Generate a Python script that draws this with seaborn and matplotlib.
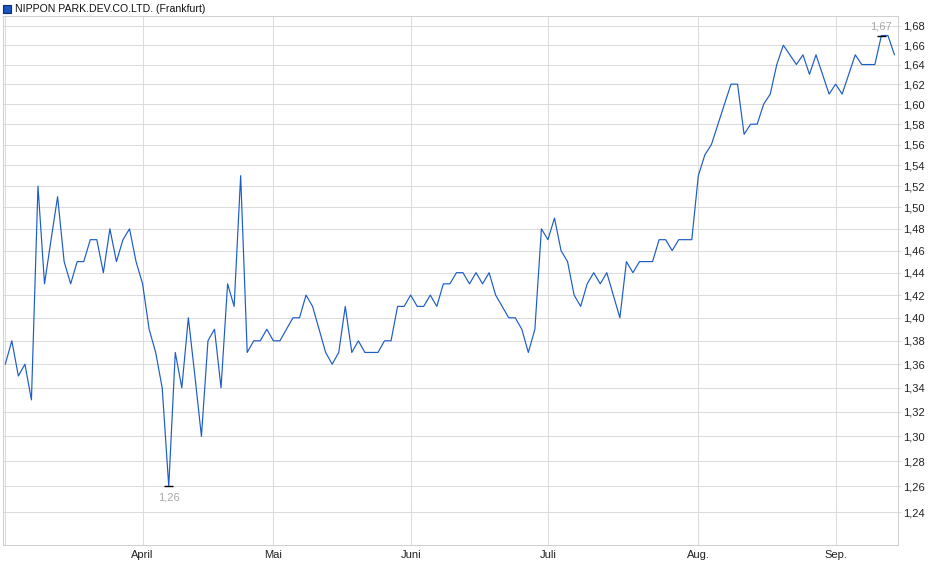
import numpy as np
import pandas as pd
import matplotlib
matplotlib.use("Agg")
import matplotlib.pyplot as plt
import matplotlib.ticker as mticker
from matplotlib.patches import Rectangle
import seaborn as sns

# ---- data ----
title = "NIPPON PARK.DEV.CO.LTD. (Frankfurt)"
start_date = "2025-03-03"
end_date = "2025-09-12"
holidays = ["2025-04-18", "2025-04-21", "2025-05-01"]
prices = [
    1.36, 1.38, 1.35, 1.36, 1.33, 1.52, 1.43, 1.47, 1.51, 1.45,
    1.43, 1.45, 1.45, 1.47, 1.47, 1.44, 1.48, 1.45, 1.47, 1.48,
    1.45, 1.43, 1.39, 1.37, 1.34, 1.26, 1.37, 1.34, 1.40, 1.35,
    1.30, 1.38, 1.39, 1.34, 1.43, 1.41, 1.53, 1.37, 1.38, 1.38,
    1.39, 1.38, 1.38, 1.39, 1.40, 1.40, 1.42, 1.41, 1.39, 1.37,
    1.36, 1.37, 1.41, 1.37, 1.38, 1.37, 1.37, 1.37, 1.38, 1.38,
    1.41, 1.41, 1.42, 1.41, 1.41, 1.42, 1.41, 1.43, 1.43, 1.44,
    1.44, 1.43, 1.44, 1.43, 1.44, 1.42, 1.41, 1.40, 1.40, 1.39,
    1.37, 1.39, 1.48, 1.47, 1.49, 1.46, 1.45, 1.42, 1.41, 1.43,
    1.44, 1.43, 1.44, 1.42, 1.40, 1.45, 1.44, 1.45, 1.45, 1.45,
    1.47, 1.47, 1.46, 1.47, 1.47, 1.47, 1.53, 1.55, 1.56, 1.58,
    1.60, 1.62, 1.62, 1.57, 1.58, 1.58, 1.60, 1.61, 1.64, 1.66,
    1.65, 1.64, 1.65, 1.63, 1.65, 1.63, 1.61, 1.62, 1.61, 1.63,
    1.65, 1.64, 1.64, 1.64, 1.67, 1.67, 1.65,
]
month_names = {3: "", 4: "April", 5: "Mai", 6: "Juni", 7: "Juli", 8: "Aug.", 9: "Sep."}
y_ticks = [1.24, 1.26, 1.28, 1.30, 1.32, 1.34, 1.36, 1.38, 1.40, 1.42, 1.44,
           1.46, 1.48, 1.50, 1.52, 1.54, 1.56, 1.58, 1.60, 1.62, 1.64, 1.66, 1.68]

# trading-day calendar
dates = pd.bdate_range(start_date, end_date)
dates = dates[~dates.isin(pd.to_datetime(holidays))]
dates = dates[:len(prices)]
df = pd.DataFrame({"date": dates, "price": prices})
df["idx"] = np.arange(len(df))
first_of_month = df.groupby(df["date"].dt.month)["idx"].min()

# ---- style ----
sns.set_style("white")
plt.rcParams["font.family"] = ["Liberation Sans", "DejaVu Sans"]

W, H = 940, 579
fig = plt.figure(figsize=(W / 100, H / 100), dpi=100)
left, right, top, bottom = 3, 898, 16, 545
ax = fig.add_axes([left / W, 1 - bottom / H, (right - left) / W, (bottom - top) / H])

line_color = "#1c5cc8"
grid_color = "#dcdcdc"

sns.lineplot(data=df, x="idx", y="price", ax=ax, color=line_color, linewidth=0.85)

ax.set_yscale("log")
ax.set_ylim(1.2147, 1.6905)
ax.set_xlim(-0.35, 136.54)

ax.yaxis.set_major_locator(mticker.FixedLocator(y_ticks))
ax.yaxis.set_minor_locator(mticker.NullLocator())
ax.yaxis.set_major_formatter(mticker.FuncFormatter(lambda v, p: f"{v:.2f}".replace(".", ",")))
ax.yaxis.tick_right()
ax.yaxis.set_label_position("right")

ax.set_xticks(list(first_of_month.values))
ax.set_xticklabels([month_names[m] for m in first_of_month.index])

ax.grid(True, color=grid_color, linewidth=0.75)
ax.set_axisbelow(True)
ax.tick_params(axis="both", which="both", length=2, color=grid_color, width=0.75,
               labelsize=8, labelcolor="#222222", pad=1.5)
ax.tick_params(axis="x", pad=1.5)
ax.set_xlabel("")
ax.set_ylabel("")
for s in ax.spines.values():
    s.set_color("#d0d0d0")
    s.set_linewidth(0.75)
    s.set_visible(True)

# min / max markers
imin = int(np.argmin(prices))
imax = int(np.argmax(prices))
for i, off in ((imin, -8), (imax, 6.5)):
    v = prices[i]
    ax.plot([i - 0.7, i + 0.7], [v, v], color="black", linewidth=1.0, solid_capstyle="butt")
    ax.annotate(f"{v:.2f}".replace(".", ","), (i, v), xytext=(0, off), textcoords="offset points",
                ha="center", va="center", fontsize=8, color="#a8a8a8")

# legend at top-left
fig.patches.append(Rectangle((3 / W, 1 - 13 / H), 8 / W, 8 / H, transform=fig.transFigure,
                             facecolor="#1c56c0", edgecolor="#0d2a6a", linewidth=0.8))
fig.text(15 / W, 1 - 9 / H, title, fontsize=7.6, color="#111111", va="center", ha="left")

fig.savefig("out.png", dpi=100)
